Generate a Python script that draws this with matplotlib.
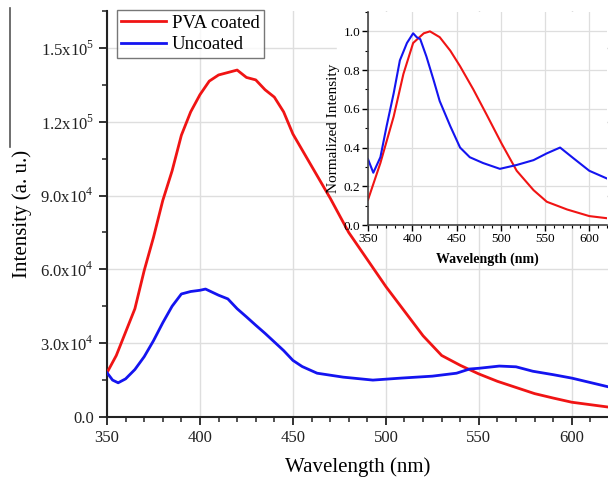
import matplotlib
matplotlib.use('Agg')
import matplotlib.pyplot as plt
from matplotlib.patches import Rectangle
from matplotlib.lines import Line2D
from matplotlib.ticker import MultipleLocator, FixedLocator

plt.rcParams['font.family'] = ['Liberation Serif', 'DejaVu Serif']
plt.rcParams['mathtext.fontset'] = 'custom'
plt.rcParams['mathtext.rm'] = 'Liberation Serif'

# main panel, intensity in units of 1e3
pva_wl = [350, 355, 360, 365, 370, 375, 380, 385, 390, 395, 400, 405, 410, 415, 420,
          425, 430, 435, 440, 445, 450, 460, 470, 480, 490, 500, 510, 520, 530, 540,
          550, 560, 570, 580, 590, 600, 610, 620]
pva_int = [18, 25, 34.5, 44, 59.5, 73, 88, 100, 114.5, 124, 131, 136.5, 139, 140, 141,
           138, 137, 133, 130, 124, 115, 102, 89, 75, 64, 53, 43, 33, 25, 21,
           17.5, 14.5, 12, 9.5, 7.7, 6, 5, 4]

unc_wl = [350, 353, 356, 360, 365, 370, 375, 380, 385, 390, 395, 400, 403, 410, 415,
          420, 425, 430, 435, 440, 445, 450, 455, 463, 477, 493, 508, 525, 538, 545,
          550, 561, 570, 579, 590, 600, 610, 620]
unc_int = [18, 15, 13.9, 15.5, 19.3, 24.5, 31, 38.3, 45, 50, 51, 51.5, 52, 49.5, 48,
           44, 40.7, 37.3, 34, 30.5, 27, 23, 20.5, 17.8, 16.2, 15, 15.8, 16.6, 17.8, 19.5,
           19.8, 20.7, 20.4, 18.6, 17.2, 15.8, 14, 12.2]

# inset, normalized
pva_n_wl = [350, 364, 379, 390, 401, 413, 420, 431, 443, 454, 469, 484, 501, 518,
            537, 552, 575, 600, 620]
pva_n = [0.13, 0.32, 0.56, 0.78, 0.94, 0.99, 1.0, 0.97, 0.90, 0.82, 0.70, 0.57, 0.42, 0.28,
         0.18, 0.12, 0.08, 0.046, 0.035]

unc_n_wl = [350, 356, 364, 371, 379, 386, 394, 401, 405, 409, 416, 424, 431, 443, 454,
            465, 480, 499, 518, 537, 552, 567, 582, 600, 620]
unc_n = [0.34, 0.27, 0.35, 0.51, 0.68, 0.85, 0.94, 0.99, 0.97, 0.96, 0.87, 0.75, 0.64, 0.51, 0.40,
         0.35, 0.32, 0.29, 0.31, 0.335, 0.37, 0.40, 0.345, 0.28, 0.24]

ytick_vals = [0, 30, 60, 90, 120, 150]
ytick_labels = ['0.0', r'3.0x10$^4$', r'6.0x10$^4$', r'9.0x10$^4$', r'1.2x10$^5$', r'1.5x10$^5$']

RED = '#f01414'
BLUE = '#1414f0'

W, H = 608, 479
fig = plt.figure(figsize=(W / 100, H / 100), dpi=100)

def px_box(x0, y0, x1, y1):
    # pixel box (top-left origin) -> figure fraction rect
    return [x0 / W, 1 - y1 / H, (x1 - x0) / W, (y1 - y0) / H]

ax = fig.add_axes(px_box(107, 11, 609, 417))
ax.plot(pva_wl, pva_int, color=RED, lw=2.0, label='PVA coated', zorder=3)
ax.plot(unc_wl, unc_int, color=BLUE, lw=2.0, label='Uncoated', zorder=3)
ax.set_xlim(350, 620)
ax.set_ylim(0, 165)
ax.set_yticks(ytick_vals)
ax.set_yticklabels(ytick_labels)
ax.xaxis.set_major_locator(FixedLocator([350, 400, 450, 500, 550, 600]))
ax.xaxis.set_minor_locator(MultipleLocator(10))
ax.yaxis.set_minor_locator(MultipleLocator(15))
ax.grid(True, color='#dedede', lw=1.0, zorder=0)
ax.set_axisbelow(True)
for s in ['top', 'right']:
    ax.spines[s].set_visible(False)
for s in ['left', 'bottom']:
    ax.spines[s].set_linewidth(1.5)
    ax.spines[s].set_color('#222222')
ax.tick_params(which='major', direction='out', length=6, width=1.3, labelsize=12, colors='#222222')
ax.tick_params(which='minor', direction='out', length=3.5, width=1.1, colors='#222222')
ax.set_xlabel('Wavelength (nm)', fontsize=15, labelpad=8)
ax.set_ylabel('Intensity (a. u.)', fontsize=15, labelpad=6)
leg = ax.legend(loc='upper left', bbox_to_anchor=(0.019, 1.003), fontsize=13.5,
                frameon=True, fancybox=False, handlelength=2.4, handletextpad=0.3,
                borderpad=0.25, labelspacing=0.25, borderaxespad=0)
leg.get_frame().set_edgecolor('#555555')
leg.get_frame().set_linewidth(1.0)

# white area left of inset
fig.patches.append(Rectangle((337 / W, 1 - 190 / H), 31 / W, 190 / H,
                             transform=fig.transFigure, color='white', zorder=1))

ins = fig.add_axes(px_box(368, 12, 607, 225), zorder=2)
ins.plot(pva_n_wl, pva_n, color=RED, lw=1.5)
ins.plot(unc_n_wl, unc_n, color=BLUE, lw=1.5)
ins.set_xlim(350, 620)
ins.set_ylim(0, 1.1)
ins.xaxis.set_major_locator(FixedLocator([350, 400, 450, 500, 550, 600]))
ins.xaxis.set_minor_locator(MultipleLocator(10))
ins.set_yticks([0, 0.2, 0.4, 0.6, 0.8, 1.0])
ins.yaxis.set_minor_locator(MultipleLocator(0.1))
ins.grid(True, color='#dedede', lw=0.9)
ins.set_axisbelow(True)
for s in ['top', 'right']:
    ins.spines[s].set_visible(False)
for s in ['left', 'bottom']:
    ins.spines[s].set_linewidth(1.2)
    ins.spines[s].set_color('#444444')
ins.tick_params(which='major', direction='out', length=4, width=1.0, labelsize=9.5, pad=1.5)
ins.tick_params(which='minor', direction='out', length=2, width=0.8)
ins.set_xlabel('Wavelength (nm)', fontsize=10, fontweight='bold', labelpad=6)
ins.set_ylabel('Normalized Intensity', fontsize=11)
ins.yaxis.set_label_coords(-0.117, 0.455)

# cropped edge of neighbouring panel
fig.lines.append(Line2D([10 / W, 10 / W], [1 - 8 / H, 1 - 147 / H],
                        transform=fig.transFigure, color='#555555', lw=1.2))

fig.savefig('out.png', dpi=100)
